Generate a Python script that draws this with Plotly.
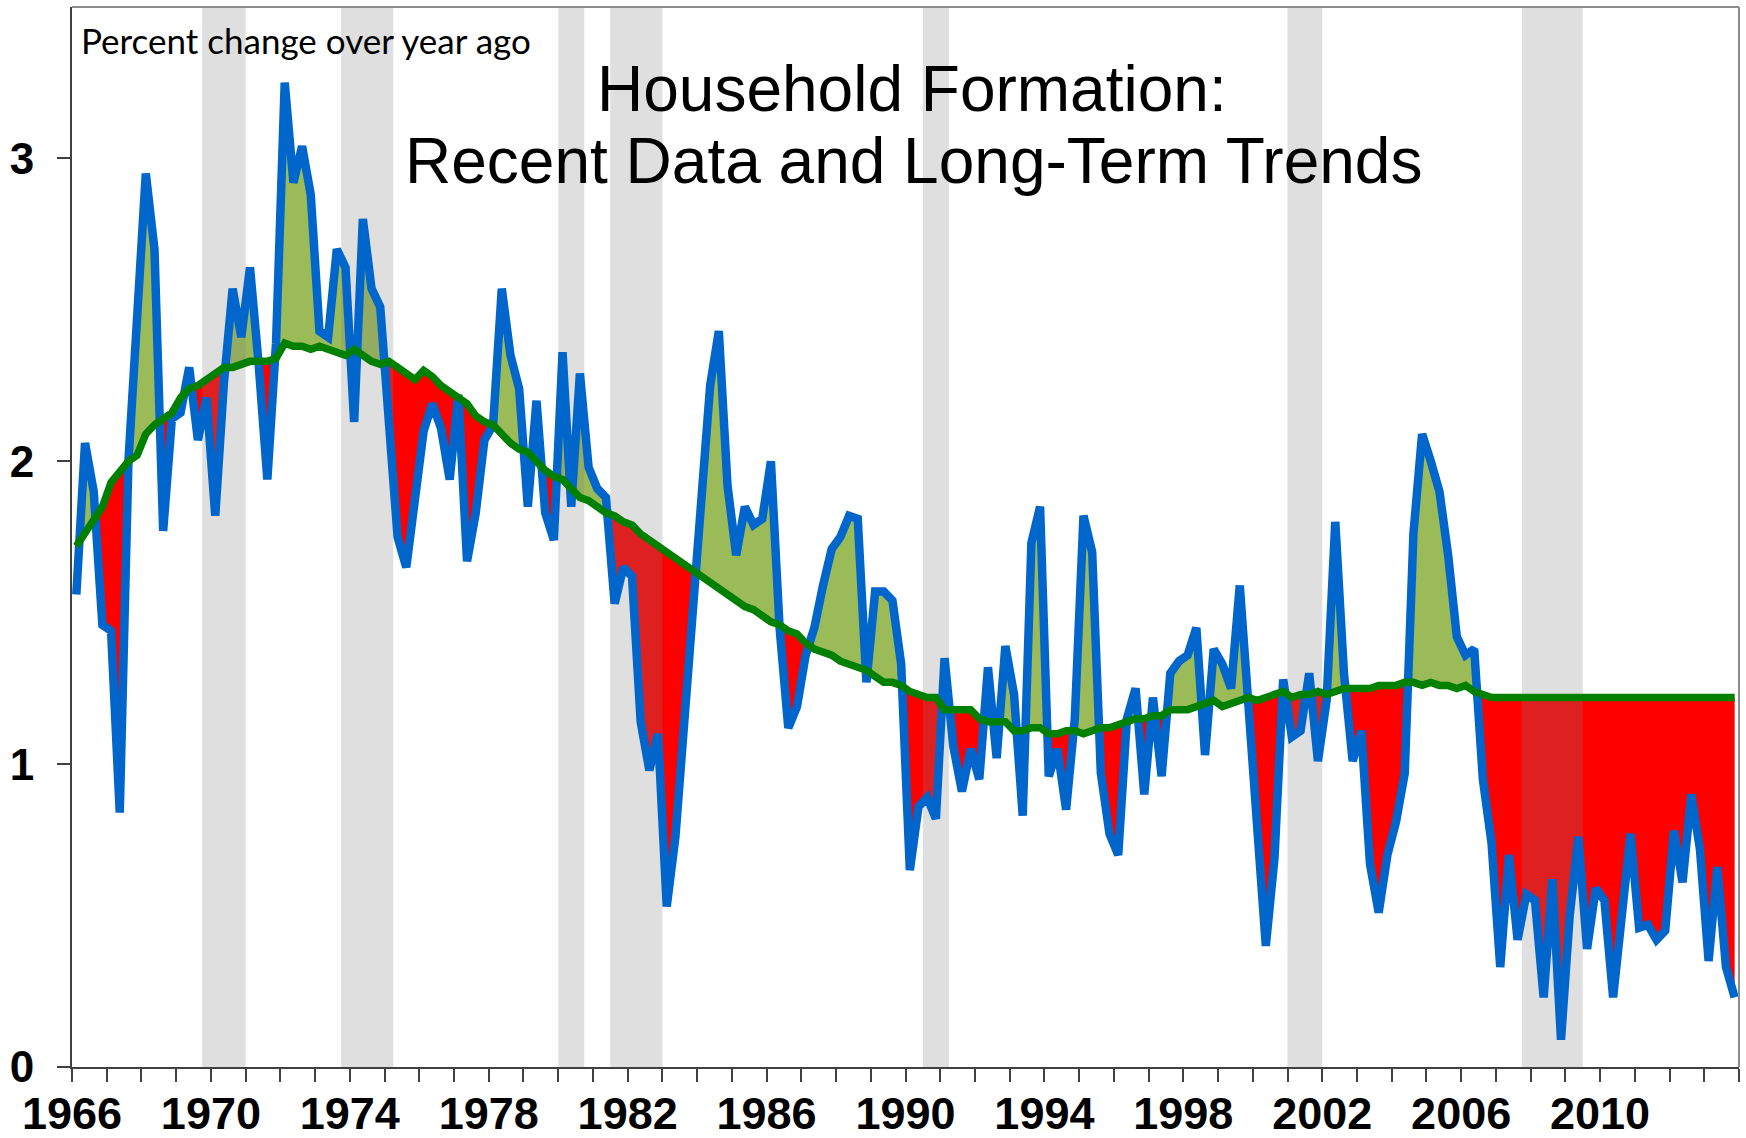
import plotly.graph_objects as go

# ---------------- data (quarterly, 1966Q1 .. 2013Q4) ----------------
start_year = 1966
actual = [
    1.56, 2.06, 1.90, 1.46, 1.44, 0.84, 2.00, 2.43, 2.95, 2.70,
    1.77, 2.14, 2.16, 2.31, 2.07, 2.21, 1.82, 2.26, 2.57, 2.41,
    2.64, 2.32, 1.94, 2.39, 3.25, 2.92, 3.04, 2.88, 2.43, 2.41,
    2.70, 2.64, 2.13, 2.80, 2.57, 2.51, 2.13, 1.75, 1.65, 1.88,
    2.10, 2.19, 2.11, 1.94, 2.22, 1.67, 1.83, 2.07, 2.12, 2.57,
    2.35, 2.24, 1.85, 2.20, 1.83, 1.74, 2.36, 1.85, 2.29, 1.98,
    1.91, 1.88, 1.53, 1.65, 1.62, 1.14, 0.98, 1.10, 0.53, 0.76,
    1.13, 1.52, 1.81, 2.25, 2.43, 1.92, 1.69, 1.85, 1.79, 1.81,
    2.00, 1.45, 1.12, 1.19, 1.36, 1.45, 1.59, 1.71, 1.75, 1.82,
    1.81, 1.27, 1.57, 1.57, 1.54, 1.33, 0.65, 0.86, 0.89, 0.82,
    1.35, 1.06, 0.91, 1.05, 0.95, 1.32, 1.02, 1.39, 1.23, 0.83,
    1.73, 1.85, 0.96, 1.05, 0.85, 1.15, 1.82, 1.70, 0.97, 0.77,
    0.70, 1.15, 1.25, 0.90, 1.22, 0.96, 1.30, 1.34, 1.36, 1.45,
    1.03, 1.38, 1.33, 1.25, 1.59, 1.17, 0.82, 0.40, 0.69, 1.28,
    1.09, 1.11, 1.30, 1.01, 1.21, 1.80, 1.30, 1.01, 1.11, 0.67,
    0.51, 0.70, 0.81, 0.97, 1.76, 2.09, 2.00, 1.90, 1.69, 1.42,
    1.36, 1.38, 0.95, 0.74, 0.33, 0.70, 0.42, 0.57, 0.55, 0.23,
    0.62, 0.09, 0.50, 0.76, 0.39, 0.59, 0.55, 0.23, 0.50, 0.77,
    0.46, 0.47, 0.42, 0.45, 0.78, 0.61, 0.90, 0.72, 0.35, 0.66,
    0.33, 0.23,
]
trend = [
    1.72, 1.76, 1.81, 1.85, 1.93, 1.97, 2.00, 2.02, 2.09, 2.12,
    2.14, 2.16, 2.21, 2.24, 2.25, 2.27, 2.29, 2.31, 2.31, 2.32,
    2.33, 2.33, 2.33, 2.34, 2.39, 2.38, 2.38, 2.37, 2.38, 2.37,
    2.36, 2.35, 2.37, 2.35, 2.33, 2.32, 2.33, 2.31, 2.29, 2.27,
    2.30, 2.28, 2.25, 2.23, 2.21, 2.19, 2.15, 2.13, 2.12, 2.09,
    2.06, 2.04, 2.03, 2.00, 1.97, 1.95, 1.94, 1.91, 1.88, 1.87,
    1.85, 1.83, 1.82, 1.80, 1.79, 1.76, 1.74, 1.72, 1.70, 1.68,
    1.66, 1.64, 1.62, 1.60, 1.58, 1.56, 1.54, 1.52, 1.51, 1.49,
    1.47, 1.46, 1.44, 1.43, 1.40, 1.38, 1.37, 1.36, 1.34, 1.33,
    1.32, 1.31, 1.29, 1.27, 1.27, 1.26, 1.24, 1.23, 1.22, 1.22,
    1.18, 1.18, 1.18, 1.18, 1.15, 1.14, 1.14, 1.14, 1.11, 1.11,
    1.12, 1.12, 1.10, 1.10, 1.11, 1.11, 1.10, 1.11, 1.12, 1.12,
    1.13, 1.14, 1.15, 1.15, 1.16, 1.16, 1.18, 1.18, 1.18, 1.19,
    1.20, 1.21, 1.19, 1.20, 1.21, 1.22, 1.21, 1.22, 1.23, 1.24,
    1.22, 1.23, 1.23, 1.24, 1.23, 1.24, 1.25, 1.25, 1.25, 1.25,
    1.26, 1.26, 1.26, 1.27, 1.27, 1.26, 1.27, 1.26, 1.26, 1.25,
    1.26, 1.24, 1.23, 1.22, 1.22, 1.22, 1.22, 1.22, 1.22, 1.22,
    1.22, 1.22, 1.22, 1.22, 1.22, 1.22, 1.22, 1.22, 1.22, 1.22,
    1.22, 1.22, 1.22, 1.22, 1.22, 1.22, 1.22, 1.22, 1.22, 1.22,
    1.22, 1.22,
]
# recession periods (start, end) in fractional years
recessions = [
    (1969.75, 1971.0), (1973.75, 1975.25), (1980.0, 1980.75), (1981.5, 1983.0),
    (1990.5, 1991.25), (2001.0, 2002.0), (2007.75, 2009.5),
]
tick_years = list(range(1966, 2015))
label_years = list(range(1966, 2014, 4))
y_ticks = [0, 1, 2, 3]

title_line1 = "Household Formation:"
title_line2 = "Recent Data and Long-Term Trends"
unit_note = "Percent change over year ago"

# ---------------- build ----------------
n = len(actual)
x = [start_year + (i + 0.5) / 4 for i in range(n)]

# add crossing points so the above/below fills split cleanly
xr, ar, tr = [x[0]], [actual[0]], [trend[0]]
for i in range(1, n):
    d0 = actual[i - 1] - trend[i - 1]
    d1 = actual[i] - trend[i]
    if d0 * d1 < 0:
        f = d0 / (d0 - d1)
        xc = x[i - 1] + f * (x[i] - x[i - 1])
        yc = trend[i - 1] + f * (trend[i] - trend[i - 1])
        xr.append(xc); ar.append(yc); tr.append(yc)
    xr.append(x[i]); ar.append(actual[i]); tr.append(trend[i])
upper = [max(a, t) for a, t in zip(ar, tr)]
lower = [min(a, t) for a, t in zip(ar, tr)]

Y_MAX = 3.5
X_MIN, X_MAX = 1966, 2014

fig = go.Figure()
common = dict(mode="lines", line=dict(width=0), showlegend=False, hoverinfo="skip")
fig.add_trace(go.Scatter(x=xr, y=tr, **common))
fig.add_trace(go.Scatter(x=xr, y=upper, fill="tonexty", fillcolor="#9BBB59", **common))
fig.add_trace(go.Scatter(x=xr, y=tr, **common))
fig.add_trace(go.Scatter(x=xr, y=lower, fill="tonexty", fillcolor="#FF0000", **common))

for a, b in recessions:
    fig.add_trace(go.Scatter(x=[a, b, b, a, a], y=[0, 0, Y_MAX, Y_MAX, 0],
                             fill="toself", fillcolor="rgba(128,128,128,0.25)", **common))

fig.add_trace(go.Scatter(x=x, y=actual, mode="lines", showlegend=False,
                         line=dict(color="#0066CC", width=8.5)))
fig.add_trace(go.Scatter(x=x, y=trend, mode="lines", showlegend=False,
                         line=dict(color="#008000", width=7.5)))

W, H = 1746, 1138
L, R, T, B = 72, 7, 7, 71
pw, ph = W - L - R, H - T - B

def px(xpix):
    return (xpix - L) / pw

def py(ypix):
    return (H - B - ypix) / ph

tick_font = dict(family="Liberation Sans, Arial, sans-serif", size=45, color="black", weight="bold")

fig.update_layout(
    width=W, height=H,
    margin=dict(l=L, r=R, t=T, b=B, autoexpand=False),
    paper_bgcolor="white", plot_bgcolor="white",
    showlegend=False,
    xaxis=dict(
        range=[X_MIN, X_MAX], tickmode="array", tickvals=tick_years,
        ticktext=[str(y) if y in label_years else "" for y in tick_years],
        ticks="outside", ticklen=13, tickwidth=1.5, tickcolor="#404040",
        showline=True, linecolor="#404040", linewidth=2, automargin=False,
        showgrid=False, zeroline=False, tickfont=tick_font, ticklabelstandoff=-7,
    ),
    yaxis=dict(
        range=[0, Y_MAX], tickmode="array", tickvals=y_ticks,
        ticks="outside", ticklen=13, tickwidth=1.5, tickcolor="#404040",
        showline=True, linecolor="#404040", linewidth=2, automargin=False,
        showgrid=False, zeroline=False, tickfont=dict(tick_font, size=44),
        ticklabelstandoff=14,
    ),
    shapes=[
        dict(type="line", xref="paper", yref="paper", x0=0, x1=1, y0=1, y1=1,
             line=dict(color="#8C8C8C", width=2)),
        dict(type="line", xref="paper", yref="paper", x0=1, x1=1, y0=0, y1=1,
             line=dict(color="#8C8C8C", width=2)),
    ],
    annotations=[
        dict(text=title_line1, xref="paper", yref="paper", x=px(912), y=py(89),
             xanchor="center", yanchor="middle", showarrow=False,
             font=dict(family="Liberation Sans, Arial, sans-serif", size=64, color="black")),
        dict(text=title_line2, xref="paper", yref="paper", x=px(913), y=py(161),
             xanchor="center", yanchor="middle", showarrow=False,
             font=dict(family="Liberation Sans, Arial, sans-serif", size=64, color="black")),
        dict(text=unit_note, xref="paper", yref="paper", x=px(79), y=py(40),
             xanchor="left", yanchor="middle", showarrow=False,
             font=dict(family="Lato, Carlito, sans-serif", size=35, color="black")),
    ],
)

fig.write_html(
    "out.html",
    config={"displayModeBar": False},
    post_script="document.body.style.margin='0';document.body.style.overflow='hidden';",
)
